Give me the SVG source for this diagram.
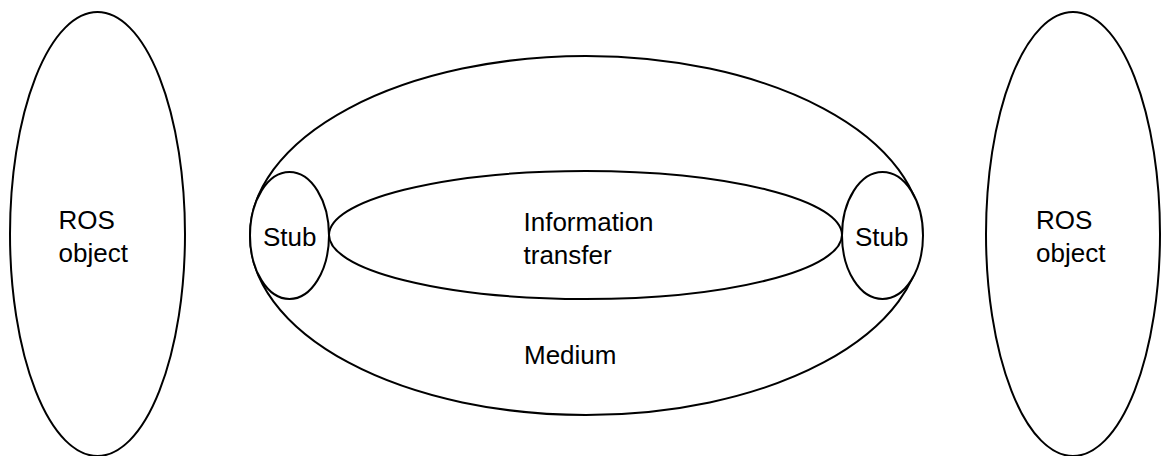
<svg xmlns="http://www.w3.org/2000/svg" width="1161" height="456" viewBox="0 0 1161 456">
<style>
.shape{fill:#fff;stroke:#000;stroke-width:2}
.lbl{font-family:"Liberation Sans",Arial,sans-serif;font-size:26px;fill:#000}
</style>
<rect width="1161" height="456" fill="#fff"/>
<g id="ros-left">
<ellipse class="shape" cx="97.5" cy="234" rx="87.5" ry="222"/>
<text class="lbl" x="58.5" y="229">ROS</text>
<text class="lbl" x="58.5" y="262">object</text>
</g>
<g id="medium">
<ellipse class="shape" cx="586" cy="235.5" rx="336" ry="179.5"/>
<text class="lbl" x="524" y="363.5">Medium</text>
</g>
<g id="info-transfer">
<ellipse class="shape" cx="585.5" cy="235" rx="256.5" ry="64"/>
<text class="lbl" x="523.5" y="231">Information</text>
<text class="lbl" x="523.5" y="264">transfer</text>
</g>
<g id="stub-left">
<ellipse class="shape" cx="289.5" cy="235.5" rx="39.5" ry="63.5"/>
<text class="lbl" x="263" y="245.5">Stub</text>
</g>
<g id="stub-right">
<ellipse class="shape" cx="882.5" cy="235.5" rx="40.5" ry="63.5"/>
<text class="lbl" x="855" y="245.5">Stub</text>
</g>
<g id="ros-right">
<ellipse class="shape" cx="1073" cy="234" rx="87" ry="222"/>
<text class="lbl" x="1036" y="229">ROS</text>
<text class="lbl" x="1036" y="262">object</text>
</g>
<g id="connectors"></g>
</svg>
